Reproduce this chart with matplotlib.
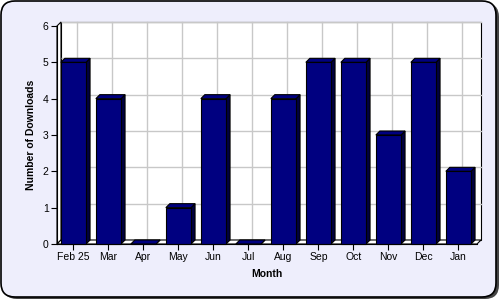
import numpy as np
import matplotlib
matplotlib.use("Agg")
import matplotlib.pyplot as plt
from matplotlib.patches import FancyBboxPatch, Polygon, Rectangle

months = ["Feb 25", "Mar", "Apr", "May", "Jun", "Jul", "Aug", "Sep", "Oct", "Nov", "Dec", "Jan"]
downloads = [5, 4, 0, 1, 4, 0, 4, 5, 5, 3, 5, 2]
yticks = [0, 1, 2, 3, 4, 5, 6]

plt.rcParams['font.family'] = ['Liberation Sans', 'DejaVu Sans']

fig = plt.figure(figsize=(5, 3), dpi=100)
fig.patch.set_facecolor("white")

# rounded panel with shadow, in a background axes
bg = fig.add_axes([0, 0, 1, 1], zorder=-1)
bg.set_xlim(0, 500)
bg.set_ylim(0, 300)
bg.axis("off")
bg.add_patch(FancyBboxPatch((3, 1), 496, 296, boxstyle="round,pad=0,rounding_size=14",
                            facecolor="#444444", edgecolor="none"))
bg.add_patch(FancyBboxPatch((1, 3), 495, 296, boxstyle="round,pad=0,rounding_size=14",
                            facecolor="#eeeefc", edgecolor="black", linewidth=1.2))

ax = fig.add_axes([57/500, 56/300, 420/500, 218/300])
ax.set_facecolor("none")
x = np.arange(len(months))
xmin, xmax = -0.47, len(months) - 0.47
ymin, ymax = 0, 6
ax.set_xlim(xmin, xmax)
ax.set_ylim(ymin, ymax)

# 3d depth in data units (about 4 px)
dx = 4 * (xmax - xmin) / 420
dy = 4 * (ymax - ymin) / 218

# back wall
ax.add_patch(Rectangle((xmin + dx, dy), xmax - xmin, ymax - ymin, facecolor="white",
                       edgecolor="black", linewidth=0.8, clip_on=False, zorder=0))
for yv in yticks[1:]:
    ax.plot([xmin + dx, xmax + dx], [yv + dy, yv + dy], color="#c8c8c8", lw=1, clip_on=False, zorder=1)
for xv in x:
    ax.plot([xv + dx, xv + dx], [dy, ymax + dy], color="#c8c8c8", lw=1, clip_on=False, zorder=1)

# left wall and floor
ax.add_patch(Polygon([(xmin, 0), (xmin + dx, dy), (xmin + dx, ymax + dy), (xmin, ymax)],
                     facecolor="white", edgecolor="black", lw=0.8, clip_on=False, zorder=1.5))
ax.add_patch(Polygon([(xmin, 0), (xmin + dx, dy), (xmax + dx, dy), (xmax, 0)],
                     facecolor="white", edgecolor="black", lw=0.8, clip_on=False, zorder=1.5))

# bars
w = 0.72
for xi, h in zip(x, downloads):
    x0, x1 = xi - w / 2, xi + w / 2
    ax.add_patch(Polygon([(x1, 0), (x1 + dx, dy), (x1 + dx, h + dy), (x1, h)],
                         facecolor="#000040", edgecolor="black", lw=0.8, clip_on=False, zorder=3))
    ax.add_patch(Polygon([(x0, h), (x0 + dx, h + dy), (x1 + dx, h + dy), (x1, h)],
                         facecolor="#000080", edgecolor="black", lw=0.8, clip_on=False, zorder=3))
    ax.add_patch(Rectangle((x0, 0), w, h, facecolor="#000080", edgecolor="black",
                           lw=0.8, clip_on=False, zorder=4))

for s in ["top", "right"]:
    ax.spines[s].set_visible(False)
ax.spines["left"].set_linewidth(0.8)
ax.spines["bottom"].set_linewidth(0.8)
ax.spines["left"].set_zorder(5)
ax.spines["bottom"].set_zorder(5)

ax.set_xticks(x)
ax.set_xticklabels(months)
ax.set_yticks(yticks)
ax.tick_params(axis="both", labelsize=7.5, length=4, width=0.8, pad=2)
ax.set_xlabel("Month", fontsize=7.5, fontweight="bold", labelpad=5)
ax.set_ylabel("Number of Downloads", fontsize=7.5, fontweight="bold", labelpad=5)

fig.savefig("out.png", dpi=100)
